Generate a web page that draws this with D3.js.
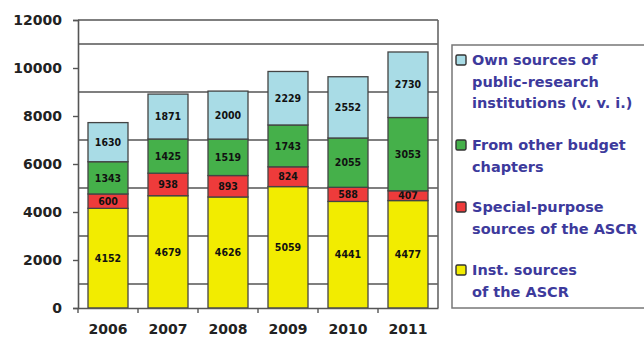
<!DOCTYPE html>
<html>
<head>
<meta charset="utf-8">
<script src="https://cdn.jsdelivr.net/npm/d3@7"></script>
<style>
body { margin: 0; background: #fff; }
svg { display: block; font-family: "DejaVu Sans", sans-serif; }
</style>
</head>
<body>
<svg id="chart"></svg>
<script>
// data
const years = ["2006", "2007", "2008", "2009", "2010", "2011"]
const instSources = [4152, 4679, 4626, 5059, 4441, 4477]
const specialPurpose = [600, 938, 893, 824, 588, 407]
const otherBudget = [1343, 1425, 1519, 1743, 2055, 3053]
const ownSources = [1630, 1871, 2000, 2229, 2552, 2730]
const yTicks = [0, 2000, 4000, 6000, 8000, 10000, 12000]
const gridValues = [1000, 3000, 5000, 7000, 9000, 11000, 12000]

const keys = ["inst", "special", "other", "own"]
const legendLines = {
    own: ["Own sources of", "public-research", "institutions (v. v. i.)"],
    other: ["From other budget", "chapters"],
    special: ["Special-purpose", "sources of the ASCR"],
    inst: ["Inst. sources", "of the ASCR"]
}
const colors = {inst: "#f2ec00", special: "#ee3b3b", other: "#45b04a", own: "#a9dce6"}

const data = years.map((y, i) => ({
    year: y, inst: instSources[i], special: specialPurpose[i], other: otherBudget[i], own: ownSources[i]
}))

// layout
const width = 644, height = 341
const margin = {left: 78, right: 206, top: 20, bottom: 33}
const visWidth = width - margin.left - margin.right
const visHeight = height - margin.top - margin.bottom

const svg = d3.select("#chart").attr("width", width).attr("height", height)
const g = svg.append("g").attr("transform", "translate(" + margin.left + "," + margin.top + ")")

const x = d3.scaleBand().domain(years).range([0, visWidth]).paddingInner(1/3).paddingOuter(1/6)
const y = d3.scaleLinear().domain([0, 12000]).range([visHeight, 0])

const boldFont = "'DejaVu Sans', sans-serif"

// grid lines (odd thousands)
g.append("g").selectAll("line")
    .data(gridValues)
    .enter().append("line")
    .attr("x1", 0).attr("x2", visWidth)
    .attr("y1", d => y(d)).attr("y2", d => y(d))
    .attr("stroke", "#555").attr("stroke-width", 1.6)

// right frame
g.append("line")
    .attr("x1", visWidth).attr("x2", visWidth)
    .attr("y1", y(12000)).attr("y2", visHeight)
    .attr("stroke", "#666").attr("stroke-width", 1.6)

// bars
const stacked = d3.stack().keys(keys)(data)
const layer = g.append("g").selectAll("g")
    .data(stacked)
    .enter().append("g")
    .attr("fill", d => colors[d.key])

layer.selectAll("rect")
    .data(d => d)
    .enter().append("rect")
    .attr("x", d => x(d.data.year))
    .attr("y", d => y(d[1]))
    .attr("width", x.bandwidth())
    .attr("height", d => y(d[0]) - y(d[1]))
    .attr("stroke", "#444")
    .attr("stroke-width", 1.3)

layer.selectAll("text")
    .data(d => d)
    .enter().append("text")
    .attr("x", d => x(d.data.year) + x.bandwidth() / 2)
    .attr("y", d => (y(d[0]) + y(d[1])) / 2)
    .attr("dy", "0.35em")
    .attr("text-anchor", "middle")
    .attr("fill", "#111")
    .style("font-size", "10.5px")
    .style("font-weight", "bold")
    .style("font-family", "'DejaVu Sans Condensed', 'Liberation Sans Narrow', sans-serif")
    .text(d => d[1] - d[0])

// y axis
const yAxis = g.append("g")
    .call(d3.axisLeft(y).tickValues(yTicks).tickFormat(d3.format("d")).tickSize(5).tickPadding(11))
yAxis.select(".domain").attr("stroke", "#555").attr("stroke-width", 1.6)
yAxis.selectAll(".tick line").attr("stroke", "#555").attr("stroke-width", 1.4)
yAxis.selectAll("text")
    .attr("fill", "#222")
    .style("font-size", "14px")
    .style("font-weight", "bold")
    .style("font-family", boldFont)

// x axis
const xAxis = g.append("g").attr("transform", "translate(0," + visHeight + ")")
    .call(d3.axisBottom(x).tickSize(0).tickPadding(16))
xAxis.select(".domain").attr("stroke", "#555").attr("stroke-width", 1.6)
xAxis.selectAll("text")
    .attr("fill", "#222")
    .style("font-size", "14px")
    .style("font-weight", "bold")
    .style("font-family", boldFont)

// x ticks between bands
g.append("g").selectAll("line")
    .data(years)
    .enter().append("line")
    .attr("x1", d => x(d) - x.step() * x.paddingInner() / 2)
    .attr("x2", d => x(d) - x.step() * x.paddingInner() / 2)
    .attr("y1", visHeight).attr("y2", visHeight + 5)
    .attr("stroke", "#555").attr("stroke-width", 1.4)

// legend
const lg = svg.append("g").attr("transform", "translate(452,45)")
lg.append("rect")
    .attr("x", 0).attr("y", 0)
    .attr("width", 200).attr("height", 263)
    .attr("fill", "none").attr("stroke", "#777").attr("stroke-width", 1.5)

const legendOrder = ["own", "other", "special", "inst"]
const legendTop = [20, 105, 167, 230]
legendOrder.forEach((k, i) => {
    const item = lg.append("g").attr("transform", "translate(0," + legendTop[i] + ")")
    item.append("rect")
        .attr("x", 4).attr("y", -10)
        .attr("width", 10).attr("height", 10)
        .attr("rx", 1.5)
        .attr("fill", colors[k])
        .attr("stroke", "#333").attr("stroke-width", 1.4)
    item.selectAll("text")
        .data(legendLines[k])
        .enter().append("text")
        .attr("x", 20)
        .attr("y", (d, j) => j * 21.5)
        .attr("fill", "#3d3a9c")
        .style("font-size", "14.5px")
        .style("font-weight", "bold")
        .style("font-family", boldFont)
        .text(d => d)
})
</script>
</body>
</html>
